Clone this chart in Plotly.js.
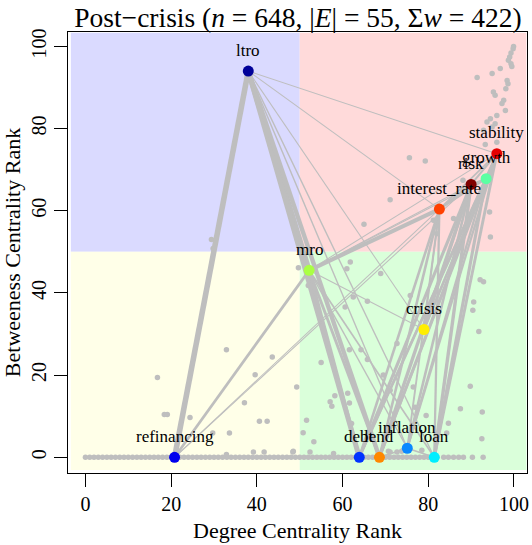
<!DOCTYPE html>
<html><head><meta charset="utf-8">
<script src="https://cdn.plot.ly/plotly-3.0.1.min.js"></script>
<style>html,body{margin:0;padding:0;background:#fff}#chart{width:532px;height:545px}</style>
</head><body><div id="chart"></div>
<script>
// Labelled nodes
const nodeNames = ["ltro","stability","growth","risk","interest_rate","mro","crisis","refinancing","debt","lend","inflation","loan"];
const nodeX = [38.0, 96.0, 93.5, 90.0, 82.6, 52.2, 79.0, 20.8, 63.9, 68.6, 75.1, 81.4];
const nodeY = [94.0, 73.9, 67.8, 66.4, 60.4, 45.5, 31.1, 0, 0, 0, 2.2, 0];
const nodeColors = ["#000099","#e60000","#5cffa3","#800000","#ff4000","#aaff44","#ffee00","#0000ee","#0033ff","#ff8800","#0a88ff","#00eeff"];

// Edges (from, to, weight)
const edgeFrom = ["ltro","ltro","ltro","ltro","ltro","ltro","ltro","ltro","ltro",
  "refinancing","refinancing","refinancing","refinancing","refinancing","refinancing",
  "mro","mro","mro","mro","mro","mro","mro","mro","mro",
  "debt","debt","debt","debt","lend","lend","lend","lend",
  "inflation","inflation","inflation","inflation","loan","loan","loan","loan",
  "crisis","crisis","crisis","crisis",
  "interest_rate","interest_rate","interest_rate","risk","risk","growth",
  "debt","debt","lend","lend","inflation"];
const edgeTo = ["refinancing","mro","debt","lend","loan","inflation","crisis","stability","interest_rate",
  "mro","interest_rate","risk","debt","lend","loan",
  "interest_rate","risk","growth","stability","debt","lend","loan","inflation","crisis",
  "interest_rate","risk","growth","stability","interest_rate","risk","growth","stability",
  "interest_rate","risk","growth","stability","interest_rate","risk","growth","stability",
  "interest_rate","risk","growth","stability",
  "risk","growth","stability","growth","stability","stability",
  "lend","loan","loan","inflation","loan"];
const edgeW = [40,34,32,24,2,2,1,1,1,
  9,1,1,4,3,2,
  20,1,1,1,14,10,3,2,1,
  8,12,8,6,8,14,10,8,
  4,8,6,6,6,14,12,10,
  3,8,6,6,
  5,4,3,6,5,5,
  6,4,5,3,3];

// Other (unlabelled) terms
const bottomX = [0,1,2,3,4,5,6,7,8,9,10,11,12,13,14,15,16,17,18,19,20,21,22,23,24,25,26,27,28,29,30,31,32,33,34,35,36,37,38,39,40,41,42,43,44,45,46,47,48,49,50,51,52,53,54,55,56,57,58,59,60,61,62,63,64,65,66,67,68,69,70,71,72,73,74,75,76,77,78,79,80,81,82,83.6,84.7,85.9,87.1,88.2,90.3,92.8];
const otherX = [99.9,99.8,99.3,99.0,98.7,99.3,99.5,96.8,94.9,91.4,98.4,98.6,98.1,95.2,95.6,97.6,97.2,98.0,96.0,94.5,93.7,95.6,94.9,92.9,
  75.6,79.3,93.3,96.0,88.1,85.9,94.3,94.5,81.2,71.1,65.0,
  52.0,60.6,65.8,61.6,64.3,65.8,55.0,58.2,57.1,57.5,61.2,61.6,51.6,50.8,53.3,52.4,57.9,62.1,69.5,71.1,72.7,75.8,76.5,76.9,79.5,71.1,72.7,73.8,78.5,
  61.8,61.0,68.9,62.5,82.0,92.1,92.9,90.6,90.4,91.8,89.8,87.5,92.6,84.7,92.5,84.3,70.7,
  49.3,48.5,32.9,43.6,39.6,16.8,18.4,19.1,24.4,37.1,40.6,42.4,29.7,33.6,32.9,39.2,41.7,48.4,49.7,29.4,29.8];
const otherY = [100,99.4,98.4,97.4,96.6,95.8,95.1,94.6,93.4,92.4,91.7,90.9,89.7,88.9,88.1,86.9,86.1,84.4,83.2,82.4,81.6,81.2,80.4,79.6,
  72.9,72.1,76.1,76.7,67.4,58.1,59.7,53.6,57.7,62.7,56.7,
  41.8,36.6,38.0,26.2,26.2,23.8,23.1,15.0,13.5,12.4,15.6,13.2,9.0,6.0,3.8,1.3,0.9,8.2,20.0,16.3,27.7,39.4,17.1,12.2,10.2,1.3,1.3,1.5,1.7,
  47.5,45.9,44.7,39.0,54.4,43.2,42.7,37.8,35.8,30.6,17.3,11.8,11.0,8.3,4.5,5.9,1.5,
  17.1,1.5,26.2,24.4,20.1,19.4,10.4,10.4,9.7,13.3,8.8,8.8,5.9,5.9,0.7,1.3,1.3,1.3,46.1,53.0,50.8];

const xTicks = [0,20,40,60,80,100];
const yTicks = [0,20,40,60,80,100];
const titleText = "Post\u2212crisis (<i>n</i> = 648, |<i>E</i>| = 55, \u03A3<i>w</i> = 422)";
const xTitle = "Degree Centrality Rank";
const yTitle = "Betweeness Centrality Rank";

const grayC = "#bebebe";
const serif = "Liberation Serif, Times New Roman, serif";
const idx = n => nodeNames.indexOf(n);

const traces = [];
traces.push({type:"scatter", mode:"markers", x: bottomX, y: bottomX.map(()=>0),
  marker:{color:grayC, size:5.5, line:{width:0}}, hoverinfo:"skip", showlegend:false});
traces.push({type:"scatter", mode:"markers", x: otherX, y: otherY,
  marker:{color:grayC, size:5.5, line:{width:0}}, hoverinfo:"skip", showlegend:false});
for (let i=0;i<edgeFrom.length;i++){
  const a = idx(edgeFrom[i]), b = idx(edgeTo[i]);
  traces.push({type:"scatter", mode:"lines", x:[nodeX[a],nodeX[b]], y:[nodeY[a],nodeY[b]],
    line:{color:grayC, width:0.2+0.85*Math.sqrt(edgeW[i])}, hoverinfo:"skip", showlegend:false});
}
traces.push({type:"scatter", mode:"markers", x:nodeX, y:nodeY,
  marker:{color:nodeColors, size:11, line:{width:0}}, showlegend:false});

const annotations = nodeNames.map((n,i)=>({x:nodeX[i], y:nodeY[i], xref:"x", yref:"y",
  text:n, showarrow:false, yshift:21, font:{family:serif, size:17, color:"#000"}}));

const shapes = [
  {type:"rect", xref:"x", yref:"y", x0:-3.4, x1:50, y0:50, y1:103.3, fillcolor:"rgb(218,218,255)", line:{width:0}, layer:"below"},
  {type:"rect", xref:"x", yref:"y", x0:50, x1:102.9, y0:50, y1:103.3, fillcolor:"rgb(255,218,218)", line:{width:0}, layer:"below"},
  {type:"rect", xref:"x", yref:"y", x0:-3.4, x1:50, y0:-3.1, y1:50, fillcolor:"rgb(255,255,232)", line:{width:0}, layer:"below"},
  {type:"rect", xref:"x", yref:"y", x0:50, x1:102.9, y0:-3.1, y1:50, fillcolor:"rgb(218,255,218)", line:{width:0}, layer:"below"}
];

const layout = {
  width:532, height:545,
  margin:{l:68, r:5, t:32, b:72},
  paper_bgcolor:"#fff", plot_bgcolor:"#fff",
  font:{family:serif, color:"#000"},
  title:{text:titleText, font:{family:serif, size:27.5, color:"#000"}, x:0.56, xanchor:"center", y:0.969, yanchor:"middle"},
  xaxis:{range:[-4.07,103.04], tickvals:xTicks, ticktext:xTicks.map(String), ticks:"outside", ticklen:13, tickwidth:1, tickcolor:"#000",
    showline:true, mirror:true, linecolor:"#000", linewidth:1, showgrid:false, zeroline:false,
    tickfont:{family:serif, size:20, color:"#000"},
    title:{text:xTitle, font:{family:serif, size:22, color:"#000"}, standoff:8}},
  yaxis:{range:[-3.82,103.5], tickvals:yTicks, ticktext:yTicks.map(String), ticks:"outside", ticklen:13, tickwidth:1, tickcolor:"#000",
    showline:true, mirror:true, linecolor:"#000", linewidth:1, showgrid:false, zeroline:false, tickangle:-90,
    tickfont:{family:serif, size:20, color:"#000"},
    title:{text:yTitle, font:{family:serif, size:22, color:"#000"}, standoff:6}},
  shapes:shapes, annotations:annotations, showlegend:false
};
Plotly.newPlot("chart", traces, layout, {displayModeBar:false, staticPlot:true});
</script></body></html>
